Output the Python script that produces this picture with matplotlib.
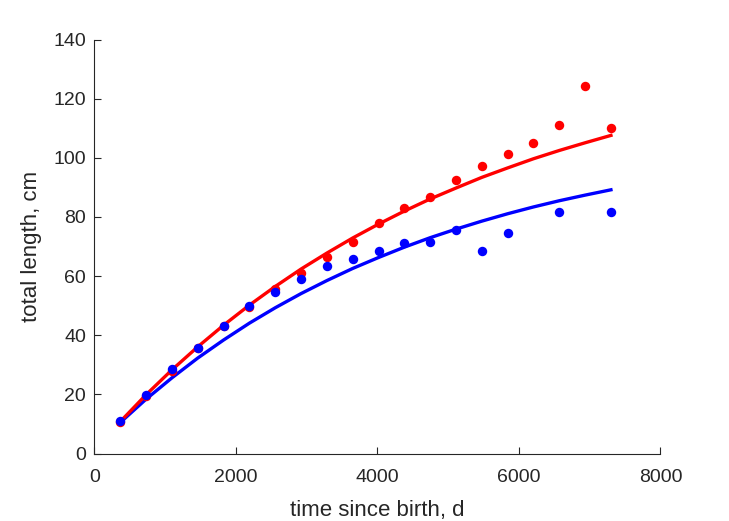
import numpy as np
import matplotlib
matplotlib.use('Agg')
import matplotlib.pyplot as plt

# Observations, one per year of age (days since birth)
days = [365, 730, 1095, 1460, 1825, 2190, 2555, 2920, 3285, 3650,
        4015, 4380, 4745, 5110, 5475, 5840, 6205, 6570, 6935, 7300]

# red data (measured total length, cm)
red_len = [10.6, 19.6, 27.8, 35.6, 43.0, 49.5, 55.7, 60.9, 66.5, 71.6,
           78.1, 83.2, 86.7, 92.6, 97.3, 101.3, 105.1, 111.1, 124.3, 110.1]

# blue data - no values at 6205 and 6935
blue_days = [365, 730, 1095, 1460, 1825, 2190, 2555, 2920, 3285, 3650,
             4015, 4380, 4745, 5110, 5475, 5840, 6570, 7300]
blue_len = [11.0, 19.7, 28.6, 35.7, 43.2, 49.9, 54.6, 59.1, 63.4, 65.7,
            68.5, 71.3, 71.6, 75.6, 68.5, 74.5, 81.6, 81.6]

# fitted growth curves at the same ages
red_fit = [10.8, 19.9, 28.3, 36.1, 43.4, 50.2, 56.5, 62.4, 67.8, 72.9,
           77.6, 82.0, 86.1, 89.8, 93.4, 96.6, 99.7, 102.5, 105.1, 107.6]
blue_fit = [10.5, 18.4, 25.6, 32.3, 38.4, 44.1, 49.3, 54.1, 58.5, 62.6,
            66.3, 69.8, 73.0, 75.9, 78.6, 81.1, 83.4, 85.5, 87.4, 89.2]

plt.rcParams['font.family'] = ['Liberation Sans', 'DejaVu Sans']

fig = plt.figure(figsize=(7.29, 5.21), dpi=100)
ax = fig.add_axes([0.1296, 0.1295, 0.7764, 0.7945])

ax.plot(days, blue_fit, '-', color='#0000ff', linewidth=2.4)
ax.plot(days, red_fit, '-', color='#ff0000', linewidth=2.4)
ax.plot(days, red_len, 'o', color='#ff0000', markersize=6.8, markeredgewidth=0)
ax.plot(blue_days, blue_len, 'o', color='#0000ff', markersize=6.8, markeredgewidth=0)

ax.set_xlim(0, 8000)
ax.set_ylim(0, 140)
ax.set_xticks(np.arange(0, 8001, 2000))
ax.set_yticks(np.arange(0, 141, 20))

ax.set_xlabel('time since birth, d', fontsize=16, color='#262626', labelpad=10)
ax.set_ylabel('total length, cm', fontsize=16, color='#262626', labelpad=8)

for side in ['top', 'right']:
    ax.spines[side].set_visible(False)
for side in ['left', 'bottom']:
    ax.spines[side].set_color('#262626')
    ax.spines[side].set_linewidth(0.8)
ax.tick_params(direction='in', length=5, width=0.8, colors='#262626',
               labelsize=14)
ax.tick_params(axis='x', pad=11)
ax.tick_params(axis='y', pad=6)

plt.savefig('out.png', dpi=100)
